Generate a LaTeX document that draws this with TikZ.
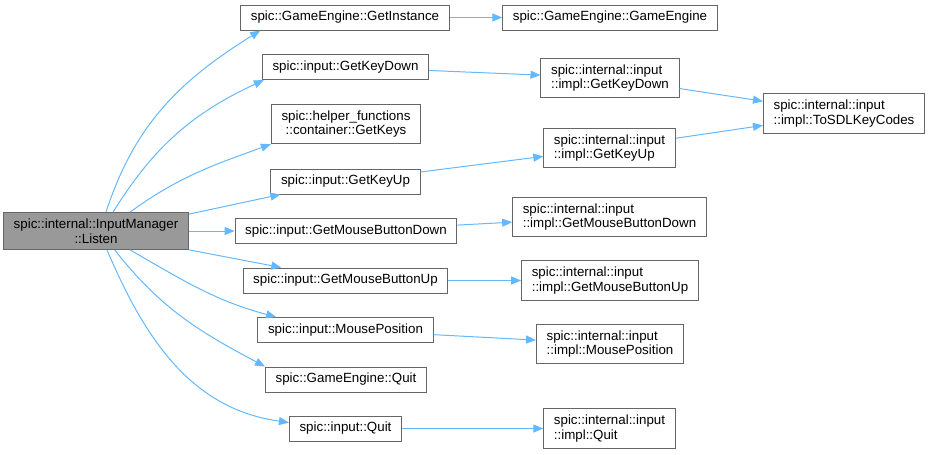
\documentclass[tikz,border=0pt]{standalone}
\usepackage{fontspec}
\setmainfont{Liberation Sans}
\usetikzlibrary{arrows.meta}

\definecolor{boxgray}{HTML}{666666}
\definecolor{curgray}{HTML}{999999}
\definecolor{edgeblue}{HTML}{63B8FF}

\tikzset{
  fn/.style={draw=boxgray, fill=white, line width=0.75pt, inner xsep=7.6pt,
    inner ysep=4.6pt, minimum height=18.75pt, align=center,
    font=\fontsize{10pt}{11pt}\selectfont},
  cur/.style={fn, fill=curgray},
  impl/.style={fn, align=left},
  call/.style={draw=edgeblue, line width=0.75pt,
    -{Triangle[length=7.5pt,width=6pt]}},
}

\begin{document}
\begin{tikzpicture}[x=0.75pt, y=-0.75pt]
    \useasboundingbox (0,0) rectangle (931,454);

    % Caller
    \node[cur] (listen) at (96,231) {spic::internal::InputManager\\::Listen};

    % Direct callees
    \node[fn] (inst) at (345,17.5) {spic::GameEngine::GetInstance};
    \node[fn] (gkd)  at (345.5,67) {spic::input::GetKeyDown};
    \node[fn] (keys) at (346,124) {spic::helper\_functions\\::container::GetKeys};
    \node[fn] (gku)  at (345.5,181.5) {spic::input::GetKeyUp};
    \node[fn] (mbd)  at (346,231) {spic::input::GetMouseButtonDown};
    \node[fn] (mbu)  at (345.5,280.5) {spic::input::GetMouseButtonUp};
    \node[fn] (mpos) at (345.5,330) {spic::input::MousePosition};
    \node[fn] (geq)  at (346,379.5) {spic::GameEngine::Quit};
    \node[fn] (quit) at (345.5,428.5) {spic::input::Quit};

    % Second level
    \node[fn] (ctor)   at (610,17.5) {spic::GameEngine::GameEngine};
    \node[impl] (igkd) at (610,78) {spic::internal::input\\::impl::GetKeyDown};
    \node[impl] (igku) at (609.5,148) {spic::internal::input\\::impl::GetKeyUp};
    \node[impl] (imbd) at (609.5,217) {spic::internal::input\\::impl::GetMouseButtonDown};
    \node[impl] (imbu) at (610,280.5) {spic::internal::input\\::impl::GetMouseButtonUp};
    \node[impl] (impos) at (610,344) {spic::internal::input\\::impl::MousePosition};
    \node[impl] (iquit) at (609.5,428.5) {spic::internal::input\\::impl::Quit};
    \node[impl] (sdl)  at (844,113.5) {spic::internal::input\\::impl::ToSDLKeyCodes};

    % Calls from Listen
    \draw[call] ([xshift=7.5pt]listen.north) to[out=72,in=212] ([xshift=15pt]inst.south west);
    \draw[call] ([xshift=12.75pt]listen.north) to[out=58,in=205] ([xshift=1.5pt]gkd.south west);
    \draw[call] ([xshift=25.5pt]listen.north) to[out=36,in=200] (keys.south west);
    \draw[call] ([yshift=-1.5pt]listen.north east) -- ([xshift=7.5pt]gku.south west);
    \draw[call] (listen.east) -- (mbd.west);
    \draw[call] (listen.south east) -- ([xshift=29pt]mbu.north west);
    \draw[call] ([xshift=25.5pt]listen.south) to[out=-30,in=165] ([xshift=14pt]mpos.north west);
    \draw[call] ([xshift=14pt]listen.south) to[out=-52,in=152] (geq.north west);
    \draw[call] ([xshift=8.25pt]listen.south) to[out=-67,in=172] ([yshift=4.5pt]quit.west);

    % Calls further on
    \draw[call] (inst) -- (ctor);
    \draw[call] (gkd) -- (igkd);
    \draw[call] (gku) -- (igku);
    \draw[call] (mbd) -- (imbd);
    \draw[call] (mbu) -- (imbu);
    \draw[call] (mpos) -- (impos);
    \draw[call] (quit) -- (iquit);
    \draw[call] (igkd) -- (sdl);
    \draw[call] (igku) -- (sdl);
\end{tikzpicture}
\end{document}
